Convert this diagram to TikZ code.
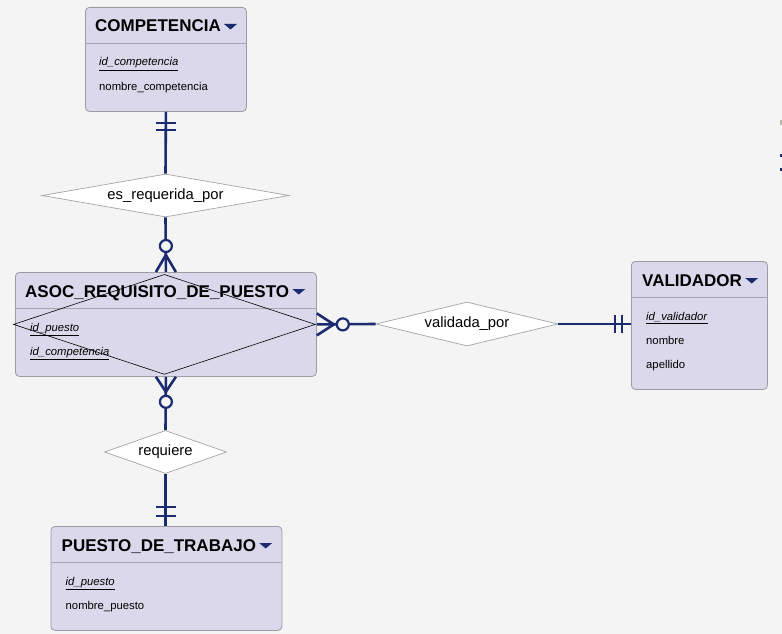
\documentclass[tikz,border=0pt]{standalone}
\usepackage{fontspec}
\setmainfont{Liberation Sans}
\usetikzlibrary{shapes.geometric}
\definecolor{bgcol}{HTML}{F4F4F4}
\definecolor{boxfill}{HTML}{DAD8EA}
\definecolor{boxline}{HTML}{9C9CA4}
\definecolor{sepcol}{HTML}{A6A6B0}
\definecolor{relline}{HTML}{A4A4A4}
\definecolor{navy}{HTML}{1C2B6F}
\definecolor{edgecol}{HTML}{B8B8A8}
\begin{document}
\begin{tikzpicture}[x=1pt,y=-1pt,
  entity/.style={draw=boxline,fill=boxfill,rounded corners=4pt,line width=0.8pt,anchor=north west,inner sep=0pt},
  etitle/.style={anchor=base west,inner sep=0pt,font=\bfseries\fontsize{17}{20}\selectfont},
  attr/.style={anchor=base west,inner sep=0pt,font=\fontsize{11.3}{13}\selectfont},
  rel/.style={diamond,draw=relline,fill=white,line width=0.7pt,inner sep=0pt,font=\fontsize{14.8}{17}\selectfont},
  sepline/.style={draw=sepcol,line width=0.8pt},
  link/.style={draw=navy,line width=2.6pt},
  opt/.style={draw=navy,fill=bgcol,line width=2.2pt},
]
  \fill[bgcol] (0,0) rectangle (782,634);
  \useasboundingbox (0,0) rectangle (782,634);
  % cut-off marks at the right edge
  \fill[edgecol] (780,120) rectangle (782,125);
  \fill[navy] (780,154) rectangle (782,157);
  \fill[navy] (780,168) rectangle (782,171);

  % COMPETENCIA
  \node[entity,minimum width=161,minimum height=104] (comp) at (85,7) {};
  \draw[sepline] ([yshift=-36]comp.north west) -- ([yshift=-36]comp.north east);
  \node[etitle] (compt) at ([xshift=10,yshift=-25]comp.north west) {COMPETENCIA};
  \fill[navy] ([xshift=3,yshift=8]compt.base east) -- ++(13,0) -- ++(-6.5,5.5) -- cycle;
  \node[attr] (comp1) at ([xshift=14,yshift=-59]comp.north west) {\underline{\textit{id\_competencia}}};
  \node[attr] (comp2) at ([xshift=14,yshift=-83]comp.north west) {nombre\_competencia};

  % ASOC_REQUISITO_DE_PUESTO
  \node[entity,minimum width=301,minimum height=104] (asoc) at (15,272) {};
  \draw[sepline] ([yshift=-36]asoc.north west) -- ([yshift=-36]asoc.north east);
  \node[etitle] (asoct) at ([xshift=10,yshift=-25]asoc.north west) {ASOC\_REQUISITO\_DE\_PUESTO};
  \fill[navy] ([xshift=3,yshift=8]asoct.base east) -- ++(13,0) -- ++(-6.5,5.5) -- cycle;
  \node[attr] (asoc1) at ([xshift=15,yshift=-59]asoc.north west) {\underline{\textit{id\_puesto}}};
  \node[attr] (asoc2) at ([xshift=15,yshift=-83]asoc.north west) {\underline{\textit{id\_competencia}}};
  \node[diamond,draw=black,line width=0.6pt,inner sep=0pt,aspect=3,minimum width=302,minimum height=100] (asocd) at ([xshift=-1.5]asoc.center) {};

  % VALIDADOR
  \node[entity,minimum width=136,minimum height=128] (vali) at (631,261) {};
  \draw[sepline] ([yshift=-36]vali.north west) -- ([yshift=-36]vali.north east);
  \node[etitle] (valit) at ([xshift=11,yshift=-25]vali.north west) {VALIDADOR};
  \fill[navy] ([xshift=3,yshift=8]valit.base east) -- ++(13,0) -- ++(-6.5,5.5) -- cycle;
  \node[attr] (vali1) at ([xshift=15,yshift=-59]vali.north west) {\underline{\textit{id\_validador}}};
  \node[attr] (vali2) at ([xshift=15,yshift=-83]vali.north west) {nombre};
  \node[attr] (vali3) at ([xshift=15,yshift=-107]vali.north west) {apellido};

  % PUESTO_DE_TRABAJO
  \node[entity,minimum width=231,minimum height=104] (puesto) at (50.5,526) {};
  \draw[sepline] ([yshift=-36]puesto.north west) -- ([yshift=-36]puesto.north east);
  \node[etitle] (puestot) at ([xshift=11,yshift=-25]puesto.north west) {PUESTO\_DE\_TRABAJO};
  \fill[navy] ([xshift=3,yshift=8]puestot.base east) -- ++(13,0) -- ++(-6.5,5.5) -- cycle;
  \node[attr] (puesto1) at ([xshift=15,yshift=-59]puesto.north west) {\underline{\textit{id\_puesto}}};
  \node[attr] (puesto2) at ([xshift=15,yshift=-83]puesto.north west) {nombre\_puesto};

  % relationships
  \node[rel,aspect=5.7,minimum width=247,minimum height=43] (esreq) at (165.5,195.5) {es\_requerida\_por};
  \node[rel,aspect=4.1,minimum width=182,minimum height=44] (valpor) at (467,324) {validada\_por};
  \node[rel,aspect=2.8,minimum width=122,minimum height=43] (req) at (165.5,452) {requiere};

  % COMPETENCIA -- es_requerida_por
  \draw[link] (comp.south) -- (esreq.north);
  \draw[link] ([xshift=-10,yshift=-11]comp.south) -- ([xshift=10,yshift=-11]comp.south);
  \draw[link] ([xshift=-10,yshift=-18]comp.south) -- ([xshift=10,yshift=-18]comp.south);

  % es_requerida_por -- ASOC
  \draw[link] (esreq.south) -- (asoc.north);
  \draw[link] ([xshift=-10]asoc.north) -- ([yshift=17]asoc.north) -- ([xshift=10]asoc.north);
  \draw[opt] ([yshift=26]asoc.north) circle (6);

  % ASOC -- requiere
  \draw[link] (asoc.south) -- (req.north);
  \draw[link] ([xshift=-10]asoc.south) -- ([yshift=-15]asoc.south) -- ([xshift=10]asoc.south);
  \draw[opt] ([yshift=-25]asoc.south) circle (6);

  % requiere -- PUESTO_DE_TRABAJO
  \draw[link] (req.south) -- (req.south |- puesto.north);
  \draw[link] ([xshift=-10,yshift=19]puesto.north) -- ([xshift=10,yshift=19]puesto.north);
  \draw[link] ([xshift=-10,yshift=10]puesto.north) -- ([xshift=10,yshift=10]puesto.north);

  % ASOC -- validada_por
  \draw[link] (asoc.east) -- (valpor.west);
  \draw[link] ([yshift=11]asoc.east) -- ([xshift=17]asoc.east) -- ([yshift=-11]asoc.east);
  \draw[opt] ([xshift=26]asoc.east) circle (6);

  % validada_por -- VALIDADOR
  \draw[link] (valpor.east) -- (valpor.east -| vali.west);
  \draw[link] ([xshift=-16,yshift=9]valpor.east -| vali.west) -- ([xshift=-16,yshift=-9]valpor.east -| vali.west);
  \draw[link] ([xshift=-9,yshift=9]valpor.east -| vali.west) -- ([xshift=-9,yshift=-9]valpor.east -| vali.west);
\end{tikzpicture}
\end{document}
